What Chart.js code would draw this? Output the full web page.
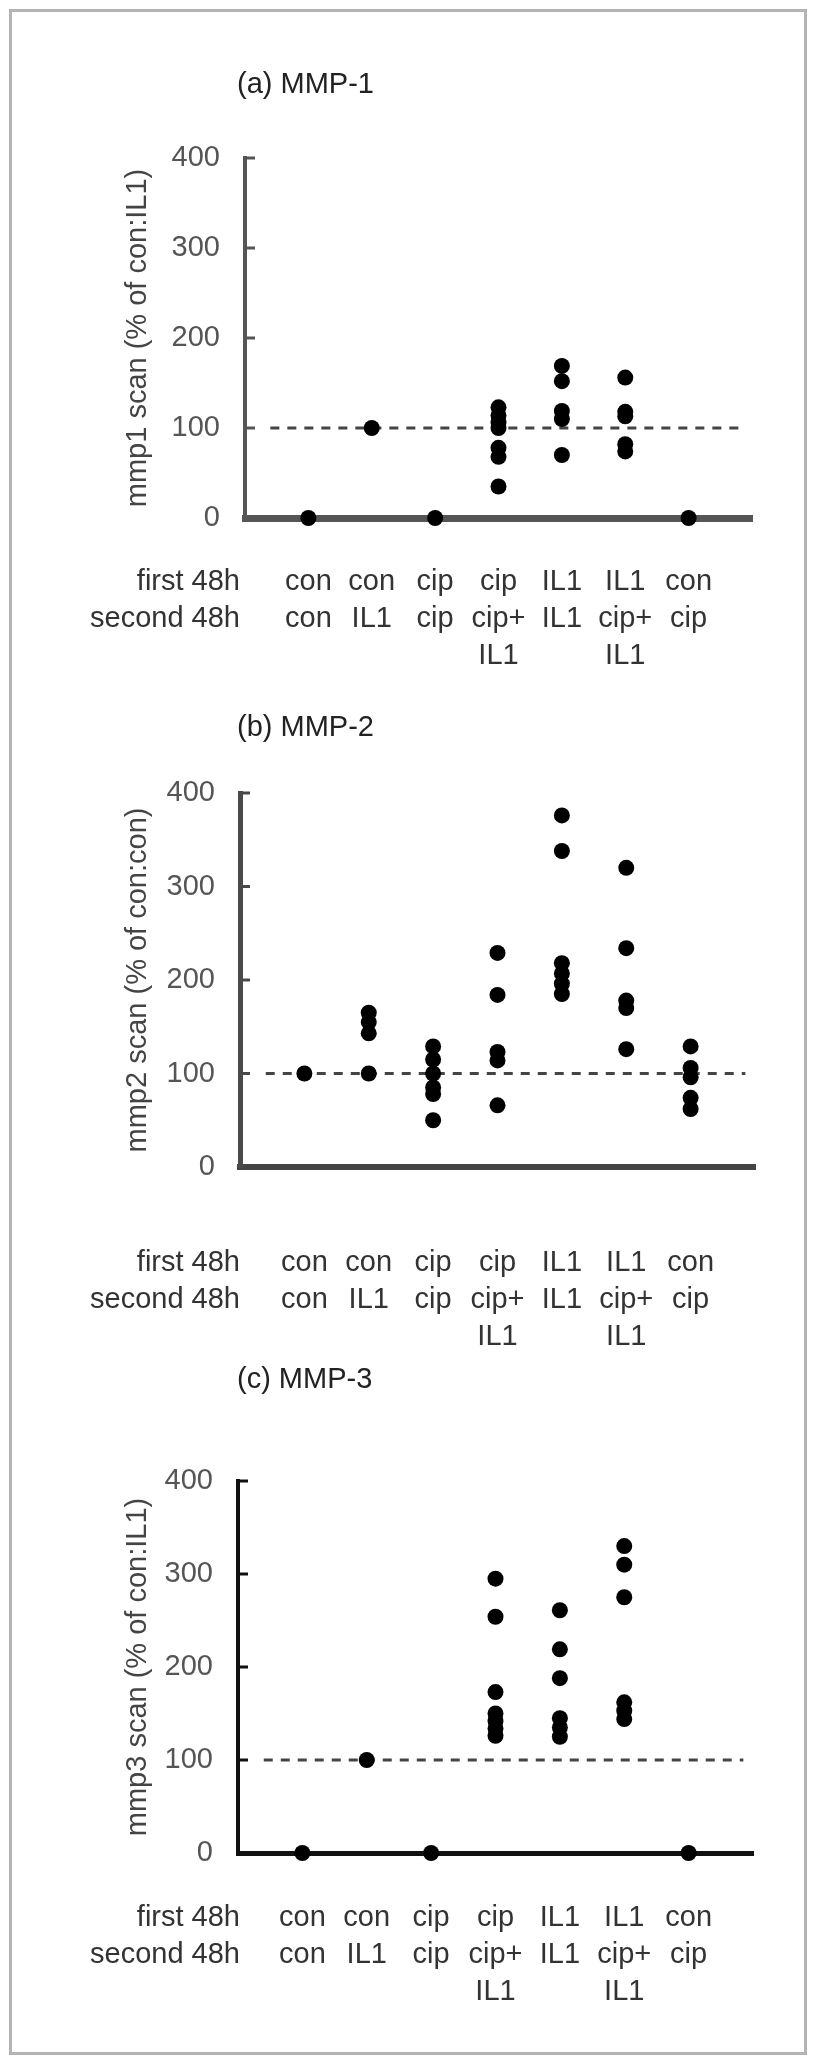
<!DOCTYPE html>
<html><head><meta charset="utf-8">
<script src="https://cdn.jsdelivr.net/npm/chart.js@4.4.1/dist/chart.umd.min.js"></script>
<style>
html,body{margin:0;padding:0;background:#fff;}
body{width:816px;height:2064px;position:relative;overflow:hidden;}
canvas{position:absolute;left:0;}
#frame{position:absolute;left:9px;top:9px;width:798px;height:2046px;border:3px solid #b4b4b4;box-sizing:border-box;pointer-events:none;}
</style></head><body>
<canvas id="cA" width="816" height="700" style="top:0px"></canvas>
<canvas id="cB" width="816" height="660" style="top:700px"></canvas>
<canvas id="cC" width="816" height="704" style="top:1360px"></canvas>
<div id="frame"></div>
<script>
// ---- data ----
const firstTreatment = ["con", "con", "cip", "cip", "IL1", "IL1", "con"];
const secondTreatment = [["con"], ["IL1"], ["cip"], ["cip+", "IL1"], ["IL1"], ["cip+", "IL1"], ["cip"]];
const rowHeaders = ["first 48h", "second 48h"];
const yTickValues = [0, 100, 200, 300, 400];
const referenceLevel = 100;
const referenceSpan = [0.4, 7.85];

const mmp1Values = [[0], [100], [0], [123, 114, 106, 100, 78, 68, 35], [169, 152, 119, 110, 70], [156, 118, 113, 82, 74], [0]];
const mmp2Values = [[100], [165, 155, 143, 100], [129, 115, 100, 85, 78, 50], [229, 184, 123, 114, 66], [376, 338, 218, 207, 196, 185], [320, 234, 178, 170, 126], [129, 106, 96, 74, 62]];
const mmp3Values = [[0], [100], [0], [295, 254, 173, 150, 142, 134, 126], [261, 219, 188, 145, 135, 125], [330, 310, 275, 162, 153, 144], [0]];

const panelTitles = ["(a) MMP-1", "(b) MMP-2", "(c) MMP-3"];
const yTitles = ["mmp1 scan (% of con:IL1)", "mmp2 scan (% of con:con)", "mmp3 scan (% of con:IL1)"];

// ---- drawing ----
const FONT = "'Liberation Sans', Arial, sans-serif";
const FS = 29;

const deco = {
  id: 'deco',
  afterDraw(chart, args, o) {
    const ctx = chart.ctx, xs = chart.scales.x, ys = chart.scales.y;
    ctx.save();
    ctx.strokeStyle = o.axisColor; ctx.lineWidth = o.tickWidth;
    ys.ticks.forEach(t => {
      if (t.value === 0) return;
      const y = ys.getPixelForValue(t.value);
      ctx.beginPath(); ctx.moveTo(xs.left, y); ctx.lineTo(xs.left + o.tickLen, y); ctx.stroke();
    });
    ctx.font = FS + "px " + FONT;
    ctx.textBaseline = 'middle';
    ctx.fillStyle = '#222'; ctx.textAlign = 'left';
    ctx.fillText(o.title, o.titleX, o.titleY);
    ctx.fillStyle = '#333'; ctx.textAlign = 'center';
    firstTreatment.forEach((f, i) => {
      const x = xs.getPixelForValue(i + 1);
      [f, ...secondTreatment[i]].forEach((t, k) => ctx.fillText(t, x, ys.bottom + o.rowOffset + k * o.rowGap));
    });
    ctx.textAlign = 'right';
    rowHeaders.forEach((h, k) => ctx.fillText(h, 240, ys.bottom + o.rowOffset + k * o.rowGap));
    ctx.restore();
  }
};

function makePanel(id, values, idx, L) {
  const pts = values.flatMap((arr, i) => arr.map(v => ({x: i + 1, y: v})));
  new Chart(document.getElementById(id), {
    type: 'scatter',
    data: {
      datasets: [
        {data: pts, backgroundColor: '#000', borderWidth: 0, pointRadius: 8, clip: false},
        {type: 'line', data: referenceSpan.map(x => ({x, y: referenceLevel})), borderColor: '#444',
         borderWidth: 3, borderDash: [9, 8], pointRadius: 0, fill: false, clip: false}
      ]
    },
    plugins: [deco],
    options: {
      responsive: false, animation: false, devicePixelRatio: 1,
      events: [],
      layout: {padding: {left: 0, right: 816 - L.right, top: L.top, bottom: L.bottom}},
      plugins: {
        legend: {display: false}, tooltip: {enabled: false},
        deco: {title: panelTitles[idx], titleX: 237, titleY: L.titleY, rowOffset: L.rowOffset, rowGap: 37,
               axisColor: L.yColor, tickWidth: 3, tickLen: 10}
      },
      scales: {
        x: {type: 'linear', min: 0, max: 8, grid: {display: false, drawTicks: false}, ticks: {display: false},
            border: {display: true, width: L.xWidth, color: L.xColor}, afterFit: s => { s.height = 0; }},
        y: {type: 'linear', min: 0, max: 400,
            afterBuildTicks: s => { s.ticks = yTickValues.map(v => ({value: v})); },
            ticks: {font: {family: FONT, size: FS}, color: '#555', padding: 25},
            grid: {display: false, drawTicks: false},
            border: {display: true, width: L.yWidth, color: L.yColor},
            title: {display: true, text: yTitles[idx], color: '#444', font: {family: FONT, size: FS, lineHeight: 1.2},
                    padding: {top: 121, bottom: 0}},
            afterFit: s => { s.width = L.left; }}
      }
    }
  });
}

makePanel('cA', mmp1Values, 0, {left: 245, right: 752, top: 158, bottom: 700 - 518, titleY: 85, rowOffset: 64,
  xWidth: 7, xColor: '#555', yWidth: 4, yColor: '#555'});
makePanel('cB', mmp2Values, 1, {left: 240, right: 755, top: 93, bottom: 660 - 467, titleY: 28, rowOffset: 96,
  xWidth: 6, xColor: '#444', yWidth: 5, yColor: '#4a4a4a'});
makePanel('cC', mmp3Values, 2, {left: 238, right: 753, top: 121, bottom: 704 - 493, titleY: 20, rowOffset: 65,
  xWidth: 5, xColor: '#111', yWidth: 4, yColor: '#111'});
</script>
</body></html>
